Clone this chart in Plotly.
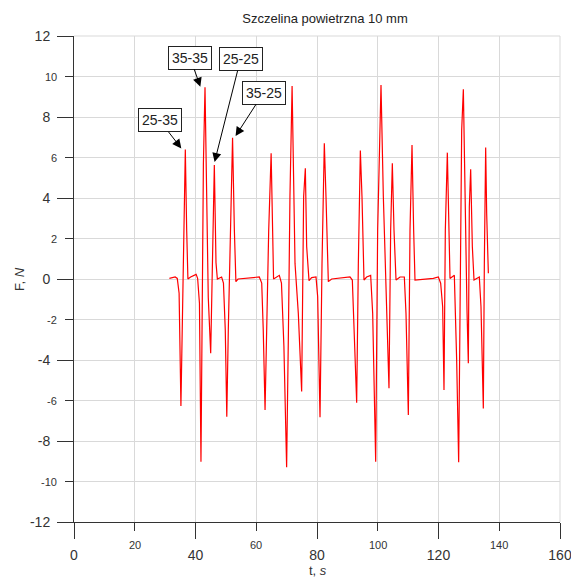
import plotly.graph_objects as go

# ---- data ----
t = [31.4, 33.3, 34.0, 34.6, 35.2, 35.6, 36.0, 36.65, 37.1, 37.5, 38.4, 40.2, 40.7, 41.3, 41.8,
     42.1, 42.6, 43.13, 43.7, 44.2, 45.0, 45.5, 46.2, 46.75, 47.2, 48.6, 49.2, 49.8, 50.3, 50.8,
     51.4, 52.2, 52.8, 53.3, 54.0, 60.1, 61.0, 61.8, 62.3, 62.9, 63.4, 64.1, 64.9, 65.3, 65.7,
     67.6, 68.3, 69.1, 70.0, 70.6, 71.1, 71.8,
     72.76, 73.85, 74.95, 75.6, 76.16, 76.6, 77.37, 78.24, 79.67, 80.22, 80.99, 81.65, 82.41,
     82.96, 83.73, 84.83, 90.86, 91.63, 92.29, 93.06, 93.61, 94.27, 94.81, 95.47, 96.35, 97.67,
     98.33, 99.32, 99.97, 101.07, 101.84, 102.94, 103.70, 104.25, 104.80, 105.35, 106.01, 107.33,
     108.75, 109.30, 110.07, 110.62, 111.28, 111.82, 112.26, 118.3, 119.95, 120.71, 121.37,
     121.81, 122.25, 122.91, 123.35, 123.79, 125.21, 125.98, 126.64, 127.19, 127.63, 128.18,
     128.83, 129.38, 129.82, 130.15, 130.59, 131.14, 131.69, 133.44, 133.99, 134.76, 135.09,
     135.53, 135.86, 136.41]
F = [0.03, 0.1, 0.03, -0.7, -6.27, -2.5, 2.4, 6.4, 2.4, 0.0, 0.1, 0.23, 0.03, -1.2, -9.02,
     -4.2, 5.7, 9.47, 4.1, -0.9, -3.67, 0.8, 5.63, 0.8, 0.0, 0.1, -0.2, -2.5, -6.8, -2.5,
     2.4, 6.98, 2.4, -0.13, 0.0, 0.07, 0.1, -0.2, -2.5, -6.47, -2.5, 2.4, 6.21, 2.4, 0.0,
     0.18, -0.2, -3.3, -9.3, -2.5, 4.1, 9.53,
     0.77, -1.70, -5.56, 4.07, 5.47, 1.6, -0.08, 0.07, 0.1, -0.87, -6.83, 0.77, 6.70,
     4.07, -0.13, 0.0, 0.1, -0.05, -2.52, -6.11, 0.77, 6.34, 4.07, -0.05, 0.1, 0.18,
     -1.70, -9.02, 2.42, 9.58, 4.07, -1.70, -5.40, 2.42, 5.71, 2.42, -0.05, 0.1,
     0.1, -1.7, -6.72, 2.42, 6.62, 2.42, -0.05, 0.03, 0.1, -0.21, -1.37,
     -5.48, 2.42, 6.24, 2.1, 0.03, 0.18, -4.0, -9.05, -1.7, 7.36, 9.37,
     2.1, -1.53, -4.16, 3.58, 5.42, 1.6, -0.05, 0.1, -1.37, -6.39, 0.77,
     6.49, 3.25, 0.28]

x_major = [0, 40, 80, 120, 160]
x_minor = [20, 60, 100, 140]
y_major = [-12, -8, -4, 0, 4, 8, 12]
y_minor = [-10, -6, -2, 2, 6, 10]

labels = ["25-35", "35-35", "25-25", "35-25"]
label_tip_t = [35.33, 41.6, 46.28, 53.19]
label_tip_F = [6.45, 9.5, 5.78, 7.06]
label_box_t = [28.19, 38.22, 54.83, 62.4]
label_box_F = [7.83, 10.93, 10.86, 9.2]

title = "Szczelina powietrzna 10 mm"
x_title = "t, <i>s</i>"
y_title = "F, <i>N</i>"

FONT = "Arial, Liberation Sans, sans-serif"
GRID = "#d9d9d9"
AXC = "#333333"

W, H = 571, 579
ML, MR, MT, MB = 74, 11, 36, 57
PW, PH = W - ML - MR, H - MT - MB

fig = go.Figure()
fig.add_trace(go.Scatter(x=t, y=F, mode="lines", line=dict(color="#ff0000", width=1.2),
                         showlegend=False, hoverinfo="skip"))

annotations = []
for txt, xt, yt, xb, yb in zip(labels, label_tip_t, label_tip_F, label_box_t, label_box_F):
    annotations.append(dict(x=xt, y=yt, xref="x", yref="y", ax=xb, ay=yb, axref="x", ayref="y",
                            text=txt, showarrow=True, arrowhead=2, arrowsize=1.8, arrowwidth=1,
                            arrowcolor="black", font=dict(family=FONT, size=14, color="#222"),
                            bgcolor="white", bordercolor="#222", borderwidth=1, borderpad=3))
# minor tick labels (smaller font, as in the reference)
for v in x_minor:
    annotations.append(dict(x=v, y=0, xref="x", yref="paper", yanchor="middle", xanchor="center",
                            yshift=-23, text=str(v), showarrow=False,
                            font=dict(family=FONT, size=11, color=AXC)))
for v in y_minor:
    annotations.append(dict(x=0, y=v, xref="paper", yref="y", xanchor="right", yanchor="middle",
                            xshift=-15, text=str(v), showarrow=False,
                            font=dict(family=FONT, size=11, color=AXC)))
# axis titles
annotations.append(dict(x=(318 - ML) / PW, y=(H - MB - 570) / PH, xref="paper", yref="paper",
                        xanchor="center", yanchor="middle", text=x_title, showarrow=False,
                        font=dict(family=FONT, size=13, color=AXC)))
annotations.append(dict(x=(19 - ML) / PW, y=0.5, xref="paper", yref="paper", textangle=-90,
                        xanchor="center", yanchor="middle", text=y_title, showarrow=False,
                        font=dict(family=FONT, size=13, color=AXC)))

fig.update_layout(
    width=W, height=H,
    margin=dict(l=ML, r=MR, t=MT, b=MB, autoexpand=False),
    paper_bgcolor="white", plot_bgcolor="white",
    title=dict(text=title, x=325 / W, xanchor="center", y=1 - 18 / H, yanchor="middle",
               font=dict(family=FONT, size=13, color="#222")),
    font=dict(family=FONT, color=AXC),
    annotations=annotations,
    xaxis=dict(range=[0, 160], tickvals=x_major, ticktext=[str(v) for v in x_major],
               ticks="outside", ticklen=16, tickwidth=1, tickcolor=AXC, ticklabelstandoff=4,
               ticklabeloverflow="allow",
               tickfont=dict(family=FONT, size=14, color=AXC), automargin=False,
               showline=True, linecolor=AXC, linewidth=1, showgrid=True, gridcolor=GRID,
               zeroline=False,
               minor=dict(tickvals=x_minor, ticks="outside", ticklen=8, tickcolor=AXC,
                          showgrid=True, gridcolor=GRID)),
    yaxis=dict(range=[-12, 12], tickvals=y_major, ticktext=[str(v) for v in y_major],
               ticks="outside", ticklen=16, tickwidth=1, tickcolor=AXC, ticklabelstandoff=4,
               ticklabeloverflow="allow",
               tickfont=dict(family=FONT, size=14, color=AXC), automargin=False,
               showline=True, linecolor=AXC, linewidth=1, showgrid=True, gridcolor=GRID,
               zeroline=False,
               minor=dict(tickvals=y_minor, ticks="outside", ticklen=8, tickcolor=AXC,
                          showgrid=True, gridcolor=GRID)),
    shapes=[
        dict(type="line", xref="paper", yref="paper", x0=0, x1=1, y0=1, y1=1,
             line=dict(color=GRID, width=1), layer="below"),
        dict(type="line", xref="paper", yref="paper", x0=1, x1=1, y0=0, y1=1,
             line=dict(color=GRID, width=1), layer="below"),
    ],
)

fig.write_html("out.html", config={"displayModeBar": False},
               post_script="document.body.style.margin='0px';")
